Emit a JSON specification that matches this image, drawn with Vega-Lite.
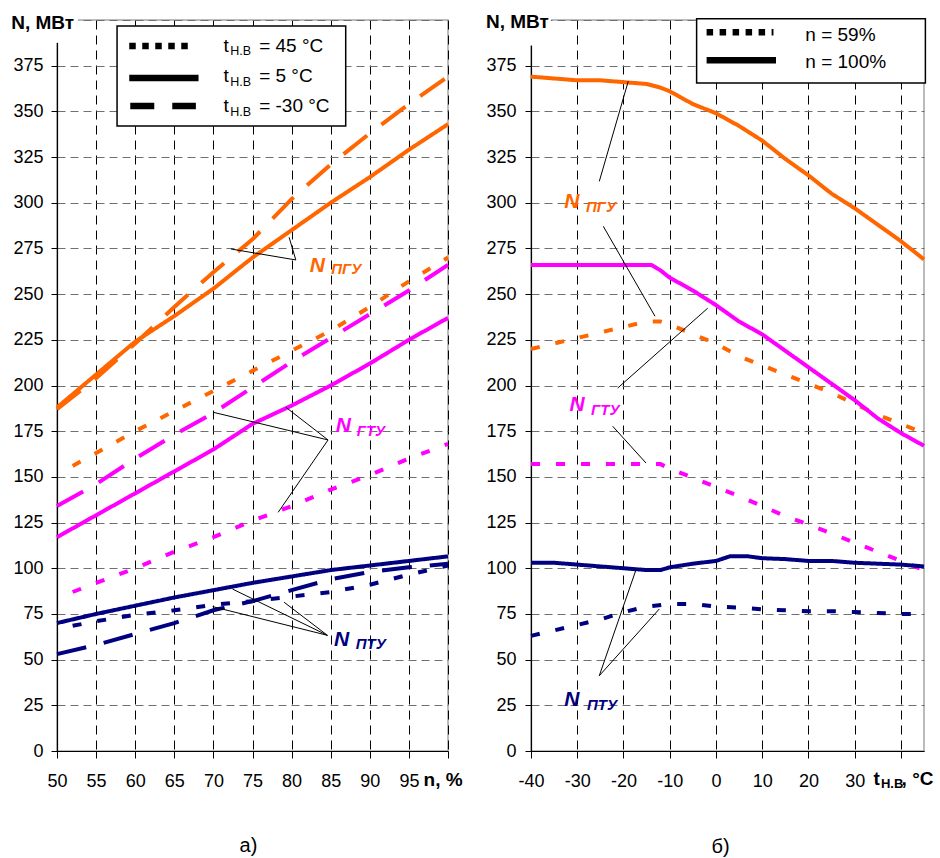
{
"$schema": "https://vega.github.io/schema/vega-lite/v6.json",
"padding": {"left": 10, "top": 10, "right": 2, "bottom": 2},
"spacing": 83,
"bounds": "flush",
"config": {
  "font": "Liberation Sans",
  "view": {"stroke": "#A6A6A6", "strokeWidth": 1.5},
  "axis": {"labelFontSize": 18, "labelColor": "#000", "labelFont": "Liberation Sans", "domainColor": "#000", "domainWidth": 1.2, "tickColor": "#000", "tickWidth": 1, "labelFlush": false, "labelOverlap": false, "grid": true, "gridWidth": 1},
  "axisX": {"gridColor": "#000", "gridDash": [9, 6], "tickSize": 7, "labelPadding": 14},
  "axisY": {"gridColor": "#707070", "gridDash": [8, 5], "tickSize": 6, "labelPadding": 8},
  "title": {"orient": "bottom", "fontSize": 20, "fontWeight": "normal", "font": "Liberation Sans", "color": "#000", "offset": 46, "anchor": "middle"},
  "text": {"font": "Liberation Sans", "color": "#000"}
},
"datasets": {
  "left": [
    {"u":"ПГУ","c":"45 °C","n":52,"N":156},{"u":"ПГУ","c":"45 °C","n":55,"N":163},{"u":"ПГУ","c":"45 °C","n":60,"N":175},{"u":"ПГУ","c":"45 °C","n":65,"N":186},{"u":"ПГУ","c":"45 °C","n":70,"N":197},{"u":"ПГУ","c":"45 °C","n":75,"N":208},{"u":"ПГУ","c":"45 °C","n":80,"N":219},{"u":"ПГУ","c":"45 °C","n":85,"N":230},{"u":"ПГУ","c":"45 °C","n":90,"N":243},{"u":"ПГУ","c":"45 °C","n":95,"N":257},{"u":"ПГУ","c":"45 °C","n":100,"N":270},
    {"u":"ПГУ","c":"5 °C","n":50,"N":188},{"u":"ПГУ","c":"5 °C","n":55,"N":206},{"u":"ПГУ","c":"5 °C","n":60,"N":224},{"u":"ПГУ","c":"5 °C","n":65,"N":238},{"u":"ПГУ","c":"5 °C","n":70,"N":253},{"u":"ПГУ","c":"5 °C","n":75,"N":270},{"u":"ПГУ","c":"5 °C","n":80,"N":285},{"u":"ПГУ","c":"5 °C","n":85,"N":300},{"u":"ПГУ","c":"5 °C","n":90,"N":314},{"u":"ПГУ","c":"5 °C","n":95,"N":329},{"u":"ПГУ","c":"5 °C","n":100,"N":343},
    {"u":"ПГУ","c":"-30 °C","n":50,"N":187},{"u":"ПГУ","c":"-30 °C","n":55,"N":204},{"u":"ПГУ","c":"-30 °C","n":60,"N":223},{"u":"ПГУ","c":"-30 °C","n":65,"N":243},{"u":"ПГУ","c":"-30 °C","n":70,"N":262},{"u":"ПГУ","c":"-30 °C","n":75,"N":280},{"u":"ПГУ","c":"-30 °C","n":80,"N":302},{"u":"ПГУ","c":"-30 °C","n":85,"N":321},{"u":"ПГУ","c":"-30 °C","n":90,"N":338},{"u":"ПГУ","c":"-30 °C","n":95,"N":354},{"u":"ПГУ","c":"-30 °C","n":100,"N":369},
    {"u":"ГТУ","c":"45 °C","n":52,"N":87},{"u":"ГТУ","c":"45 °C","n":55,"N":92},{"u":"ГТУ","c":"45 °C","n":60,"N":100},{"u":"ГТУ","c":"45 °C","n":65,"N":109},{"u":"ГТУ","c":"45 °C","n":70,"N":117},{"u":"ГТУ","c":"45 °C","n":75,"N":126},{"u":"ГТУ","c":"45 °C","n":80,"N":134},{"u":"ГТУ","c":"45 °C","n":85,"N":143},{"u":"ГТУ","c":"45 °C","n":90,"N":151},{"u":"ГТУ","c":"45 °C","n":95,"N":160},{"u":"ГТУ","c":"45 °C","n":100,"N":168},
    {"u":"ГТУ","c":"5 °C","n":50,"N":117},{"u":"ГТУ","c":"5 °C","n":55,"N":129},{"u":"ГТУ","c":"5 °C","n":60,"N":141},{"u":"ГТУ","c":"5 °C","n":65,"N":153},{"u":"ГТУ","c":"5 °C","n":70,"N":165},{"u":"ГТУ","c":"5 °C","n":75,"N":179},{"u":"ГТУ","c":"5 °C","n":80,"N":189},{"u":"ГТУ","c":"5 °C","n":85,"N":200},{"u":"ГТУ","c":"5 °C","n":90,"N":212},{"u":"ГТУ","c":"5 °C","n":95,"N":225},{"u":"ГТУ","c":"5 °C","n":100,"N":237},
    {"u":"ГТУ","c":"-30 °C","n":50,"N":134},{"u":"ГТУ","c":"-30 °C","n":55,"N":146},{"u":"ГТУ","c":"-30 °C","n":60,"N":160},{"u":"ГТУ","c":"-30 °C","n":65,"N":173},{"u":"ГТУ","c":"-30 °C","n":70,"N":185},{"u":"ГТУ","c":"-30 °C","n":75,"N":199},{"u":"ГТУ","c":"-30 °C","n":80,"N":213},{"u":"ГТУ","c":"-30 °C","n":85,"N":226},{"u":"ГТУ","c":"-30 °C","n":90,"N":239},{"u":"ГТУ","c":"-30 °C","n":95,"N":252},{"u":"ГТУ","c":"-30 °C","n":100,"N":266},
    {"u":"ПТУ","c":"45 °C","n":52,"N":68.5},{"u":"ПТУ","c":"45 °C","n":55,"N":71},{"u":"ПТУ","c":"45 °C","n":60,"N":74.5},{"u":"ПТУ","c":"45 °C","n":65,"N":77},{"u":"ПТУ","c":"45 °C","n":70,"N":80},{"u":"ПТУ","c":"45 °C","n":75,"N":82},{"u":"ПТУ","c":"45 °C","n":80,"N":84.5},{"u":"ПТУ","c":"45 °C","n":85,"N":87},{"u":"ПТУ","c":"45 °C","n":90,"N":91},{"u":"ПТУ","c":"45 °C","n":95,"N":96.5},{"u":"ПТУ","c":"45 °C","n":100,"N":101.5},
    {"u":"ПТУ","c":"5 °C","n":50,"N":70},{"u":"ПТУ","c":"5 °C","n":55,"N":75},{"u":"ПТУ","c":"5 °C","n":60,"N":79.5},{"u":"ПТУ","c":"5 °C","n":65,"N":84},{"u":"ПТУ","c":"5 °C","n":70,"N":88},{"u":"ПТУ","c":"5 °C","n":75,"N":92},{"u":"ПТУ","c":"5 °C","n":80,"N":95.5},{"u":"ПТУ","c":"5 °C","n":85,"N":99},{"u":"ПТУ","c":"5 °C","n":90,"N":101.5},{"u":"ПТУ","c":"5 °C","n":95,"N":104},{"u":"ПТУ","c":"5 °C","n":100,"N":106.5},
    {"u":"ПТУ","c":"-30 °C","n":50,"N":53},{"u":"ПТУ","c":"-30 °C","n":55,"N":58},{"u":"ПТУ","c":"-30 °C","n":60,"N":64},{"u":"ПТУ","c":"-30 °C","n":65,"N":70},{"u":"ПТУ","c":"-30 °C","n":70,"N":77},{"u":"ПТУ","c":"-30 °C","n":75,"N":82},{"u":"ПТУ","c":"-30 °C","n":80,"N":88},{"u":"ПТУ","c":"-30 °C","n":85,"N":94},{"u":"ПТУ","c":"-30 °C","n":90,"N":98},{"u":"ПТУ","c":"-30 °C","n":95,"N":100.5},{"u":"ПТУ","c":"-30 °C","n":100,"N":102.5}
  ],
  "right": [
    {"u":"ПГУ","c":"100%","t":-40,"N":369},{"u":"ПГУ","c":"100%","t":-35,"N":368},{"u":"ПГУ","c":"100%","t":-30,"N":367},{"u":"ПГУ","c":"100%","t":-25,"N":367},{"u":"ПГУ","c":"100%","t":-20,"N":366},{"u":"ПГУ","c":"100%","t":-15,"N":365},{"u":"ПГУ","c":"100%","t":-12,"N":363},{"u":"ПГУ","c":"100%","t":-10,"N":361},{"u":"ПГУ","c":"100%","t":-5,"N":354},{"u":"ПГУ","c":"100%","t":0,"N":349},{"u":"ПГУ","c":"100%","t":5,"N":342},{"u":"ПГУ","c":"100%","t":10,"N":334},{"u":"ПГУ","c":"100%","t":15,"N":324},{"u":"ПГУ","c":"100%","t":20,"N":315},{"u":"ПГУ","c":"100%","t":25,"N":305},{"u":"ПГУ","c":"100%","t":30,"N":297},{"u":"ПГУ","c":"100%","t":35,"N":288},{"u":"ПГУ","c":"100%","t":40,"N":279},{"u":"ПГУ","c":"100%","t":45,"N":269},
    {"u":"ПГУ","c":"59%","t":-40,"N":220},{"u":"ПГУ","c":"59%","t":-35,"N":223},{"u":"ПГУ","c":"59%","t":-30,"N":226},{"u":"ПГУ","c":"59%","t":-25,"N":229},{"u":"ПГУ","c":"59%","t":-20,"N":232},{"u":"ПГУ","c":"59%","t":-15,"N":235},{"u":"ПГУ","c":"59%","t":-12,"N":235},{"u":"ПГУ","c":"59%","t":-10,"N":233.5},{"u":"ПГУ","c":"59%","t":-5,"N":228},{"u":"ПГУ","c":"59%","t":0,"N":223},{"u":"ПГУ","c":"59%","t":5,"N":216},{"u":"ПГУ","c":"59%","t":10,"N":211},{"u":"ПГУ","c":"59%","t":15,"N":206},{"u":"ПГУ","c":"59%","t":20,"N":201},{"u":"ПГУ","c":"59%","t":25,"N":196},{"u":"ПГУ","c":"59%","t":30,"N":190},{"u":"ПГУ","c":"59%","t":35,"N":184},{"u":"ПГУ","c":"59%","t":40,"N":179},{"u":"ПГУ","c":"59%","t":45,"N":174},
    {"u":"ГТУ","c":"100%","t":-40,"N":266},{"u":"ГТУ","c":"100%","t":-30,"N":266},{"u":"ГТУ","c":"100%","t":-20,"N":266},{"u":"ГТУ","c":"100%","t":-14,"N":266},{"u":"ГТУ","c":"100%","t":-12,"N":263},{"u":"ГТУ","c":"100%","t":-10,"N":259},{"u":"ГТУ","c":"100%","t":-5,"N":252},{"u":"ГТУ","c":"100%","t":0,"N":244},{"u":"ГТУ","c":"100%","t":5,"N":235},{"u":"ГТУ","c":"100%","t":10,"N":228},{"u":"ГТУ","c":"100%","t":15,"N":219},{"u":"ГТУ","c":"100%","t":20,"N":210},{"u":"ГТУ","c":"100%","t":25,"N":201},{"u":"ГТУ","c":"100%","t":30,"N":192},{"u":"ГТУ","c":"100%","t":35,"N":182},{"u":"ГТУ","c":"100%","t":40,"N":174},{"u":"ГТУ","c":"100%","t":45,"N":167},
    {"u":"ГТУ","c":"59%","t":-40,"N":157},{"u":"ГТУ","c":"59%","t":-30,"N":157},{"u":"ГТУ","c":"59%","t":-20,"N":157},{"u":"ГТУ","c":"59%","t":-12,"N":157},{"u":"ГТУ","c":"59%","t":-10,"N":154.5},{"u":"ГТУ","c":"59%","t":-5,"N":149.5},{"u":"ГТУ","c":"59%","t":0,"N":144.5},{"u":"ГТУ","c":"59%","t":5,"N":139.5},{"u":"ГТУ","c":"59%","t":10,"N":134},{"u":"ГТУ","c":"59%","t":15,"N":128.5},{"u":"ГТУ","c":"59%","t":20,"N":124},{"u":"ГТУ","c":"59%","t":25,"N":119},{"u":"ГТУ","c":"59%","t":30,"N":114},{"u":"ГТУ","c":"59%","t":35,"N":109},{"u":"ГТУ","c":"59%","t":40,"N":104},{"u":"ГТУ","c":"59%","t":45,"N":99},
    {"u":"ПТУ","c":"100%","t":-40,"N":103},{"u":"ПТУ","c":"100%","t":-35,"N":103},{"u":"ПТУ","c":"100%","t":-30,"N":102},{"u":"ПТУ","c":"100%","t":-25,"N":101},{"u":"ПТУ","c":"100%","t":-20,"N":100},{"u":"ПТУ","c":"100%","t":-15,"N":99},{"u":"ПТУ","c":"100%","t":-12,"N":99},{"u":"ПТУ","c":"100%","t":-10,"N":100.5},{"u":"ПТУ","c":"100%","t":-5,"N":102.5},{"u":"ПТУ","c":"100%","t":0,"N":104},{"u":"ПТУ","c":"100%","t":3,"N":106.5},{"u":"ПТУ","c":"100%","t":7,"N":106.5},{"u":"ПТУ","c":"100%","t":10,"N":105.5},{"u":"ПТУ","c":"100%","t":15,"N":105},{"u":"ПТУ","c":"100%","t":20,"N":104},{"u":"ПТУ","c":"100%","t":25,"N":104},{"u":"ПТУ","c":"100%","t":30,"N":103},{"u":"ПТУ","c":"100%","t":35,"N":102.5},{"u":"ПТУ","c":"100%","t":40,"N":102},{"u":"ПТУ","c":"100%","t":45,"N":101},
    {"u":"ПТУ","c":"59%","t":-40,"N":63},{"u":"ПТУ","c":"59%","t":-35,"N":66},{"u":"ПТУ","c":"59%","t":-30,"N":69},{"u":"ПТУ","c":"59%","t":-25,"N":72},{"u":"ПТУ","c":"59%","t":-20,"N":76},{"u":"ПТУ","c":"59%","t":-15,"N":79},{"u":"ПТУ","c":"59%","t":-10,"N":80.5},{"u":"ПТУ","c":"59%","t":-5,"N":80.5},{"u":"ПТУ","c":"59%","t":0,"N":79},{"u":"ПТУ","c":"59%","t":5,"N":78.5},{"u":"ПТУ","c":"59%","t":10,"N":77.5},{"u":"ПТУ","c":"59%","t":15,"N":77},{"u":"ПТУ","c":"59%","t":20,"N":76.5},{"u":"ПТУ","c":"59%","t":25,"N":76.5},{"u":"ПТУ","c":"59%","t":30,"N":76},{"u":"ПТУ","c":"59%","t":35,"N":75.5},{"u":"ПТУ","c":"59%","t":40,"N":75},{"u":"ПТУ","c":"59%","t":45,"N":75}
  ],
  "leftLeaders": [
    {"x1":80.54,"y1":268.7,"x2":72.24,"y2":274.7},{"x1":80.54,"y1":268.7,"x2":79.68,"y2":281.1},
    {"x1":84.66,"y1":170.2,"x2":70.03,"y2":185.3},{"x1":84.66,"y1":170.2,"x2":79.26,"y2":188.1},{"x1":84.66,"y1":170.2,"x2":78.28,"y2":130.6},
    {"x1":84.58,"y1":63.3,"x2":72.45,"y2":88.6},{"x1":84.58,"y1":63.3,"x2":69.9,"y2":79.0},{"x1":84.58,"y1":63.3,"x2":79.04,"y2":81.4}
  ],
  "rightLeaders": [
    {"x1":-25.23,"y1":311.7,"x2":-18.96,"y2":366.5},{"x1":-24.36,"y1":287.1,"x2":-13.18,"y2":237.9},
    {"x1":-21.25,"y1":198.6,"x2":-1.78,"y2":242.3},{"x1":-22.33,"y1":177.7,"x2":-15.13,"y2":157.6},
    {"x1":-25.23,"y1":41.2,"x2":-17.29,"y2":99.2},{"x1":-25.23,"y1":41.2,"x2":-12.25,"y2":77.7}
  ],
  "leftLabels": [
    {"u":"ПГУ","nx":82.32,"ny":262.1,"sx":85.08,"sy":261.0},
    {"u":"ГТУ","nx":85.64,"ny":174.6,"sx":88.33,"sy":172.5},
    {"u":"ПТУ","nx":85.43,"ny":57.6,"sx":88.2,"sy":55.8}
  ],
  "rightLabels": [
    {"u":"ПГУ","nx":-32.8,"ny":297.1,"sx":-28.1,"sy":294.8},
    {"u":"ГТУ","nx":-31.7,"ny":185.9,"sx":-27.0,"sy":184.0},
    {"u":"ПТУ","nx":-32.8,"ny":24.5,"sx":-27.9,"sy":22.6}
  ],
  "leftBox": [{"x1":57.68,"x2":86.92,"y1":396.7,"y2":342}],
  "rightBox": [{"x1":-4.18,"x2":45.3,"y1":400.7,"y2":365.5}],
  "leftKey": [
    {"c":"45 °C","x1":59.24,"x2":67.55,"ys":385.8,"xt":71.29,"xs":72.15,"xr":75.85,"yt":382.3,"ysub":381.0,"rest":"= 45 °C"},
    {"c":"5 °C","x1":59.24,"x2":68.1,"ys":368.3,"xt":71.29,"xs":72.15,"xr":75.85,"yt":365.9,"ysub":364.0,"rest":"= 5 °C"},
    {"c":"-30 °C","x1":59.37,"x2":67.76,"ys":353.0,"xt":71.29,"xs":72.15,"xr":75.85,"yt":349.5,"ysub":347.6,"rest":"= -30 °C"}
  ],
  "rightKey": [
    {"c":"59%","x1":-2.02,"x2":12.44,"ys":393.3,"xt":19.33,"yt":388.3,"label":"n = 59%"},
    {"c":"100%","x1":-2.02,"x2":12.99,"ys":378.0,"xt":19.33,"yt":373.7,"label":"n = 100%"}
  ],
  "leftMask": [{"x1":49,"x2":52.7,"y1":387.5,"y2":402}],
  "rightMask": [{"x1":-41.5,"x2":-35.7,"y1":386,"y2":402}],
  "leftTitles": [
    {"x":44.14,"y":395.1,"label":"N, МВт"},
    {"x":96.88,"y":-19.15,"label":"n, %"}
  ],
  "rightTitles": [
    {"x":-49.73,"y":395.6,"label":"N, МВт"},
    {"x":34.07,"y":-18.6,"label":"t"},
    {"x":40.15,"y":-18.6,"label":", °C"}
  ],
  "rightTitleSub": [
    {"x":35.69,"y":-20.2,"label":"Н.В"}
  ]
},
"hconcat": [
  {
    "width": 391, "height": 731,
    "title": {"text": "а)", "dx": -4},
    "resolve": {"scale": {"strokeDash": "independent"}},
    "layer": [
      {"data": {"name": "left"},
       "mark": {"type": "line", "strokeWidth": 4},
       "encoding": {
         "x": {"field": "n", "type": "quantitative", "scale": {"domain": [50, 100], "nice": false, "zero": false},
               "axis": {"values": [50,55,60,65,70,75,80,85,90,95,100], "labelExpr": "datum.value == 100 ? '' : toString(datum.value)", "title": null}},
         "y": {"field": "N", "type": "quantitative", "scale": {"domain": [0, 400], "nice": false},
               "axis": {"values": [0,25,50,75,100,125,150,175,200,225,250,275,300,325,350,375,400], "labelExpr": "datum.value == 400 ? '' : toString(datum.value)", "title": null}},
         "color": {"field": "u", "type": "nominal", "scale": {"domain": ["ПГУ","ГТУ","ПТУ"], "range": ["#FF6600","#FF00FF","#000080"]}, "legend": null},
         "strokeDash": {"field": "c", "type": "nominal", "scale": {"domain": ["45 °C","5 °C","-30 °C"], "range": [[9,16],[1,0],[30,18]]}, "legend": null}
       }},
      {"data": {"name": "leftLeaders"},
       "mark": {"type": "rule", "color": "#000", "strokeWidth": 1},
       "encoding": {
         "x": {"field": "x1", "type": "quantitative", "scale": {"domain": [50, 100], "nice": false, "zero": false}, "axis": {"values": [50,55,60,65,70,75,80,85,90,95,100], "labelExpr": "datum.value == 100 ? '' : toString(datum.value)", "title": null}},
         "y": {"field": "y1", "type": "quantitative", "scale": {"domain": [0, 400], "nice": false}, "axis": {"values": [0,25,50,75,100,125,150,175,200,225,250,275,300,325,350,375,400], "labelExpr": "datum.value == 400 ? '' : toString(datum.value)", "title": null}},
         "x2": {"field": "x2"}, "y2": {"field": "y2"}
       }},
      {"data": {"name": "leftBox"},
       "mark": {"type": "rect", "fill": "#FFFFFF", "stroke": "#000", "strokeWidth": 1.5},
       "encoding": {
         "x": {"field": "x1", "type": "quantitative", "scale": {"domain": [50, 100], "nice": false, "zero": false}, "axis": {"values": [50,55,60,65,70,75,80,85,90,95,100], "labelExpr": "datum.value == 100 ? '' : toString(datum.value)", "title": null}},
         "y": {"field": "y1", "type": "quantitative", "scale": {"domain": [0, 400], "nice": false}, "axis": {"values": [0,25,50,75,100,125,150,175,200,225,250,275,300,325,350,375,400], "labelExpr": "datum.value == 400 ? '' : toString(datum.value)", "title": null}},
         "x2": {"field": "x2"}, "y2": {"field": "y2"}
       }},
      {"data": {"name": "leftKey"},
       "mark": {"type": "rule", "color": "#000", "strokeWidth": 6.5},
       "encoding": {
         "x": {"field": "x1", "type": "quantitative", "scale": {"domain": [50, 100], "nice": false, "zero": false}, "axis": {"values": [50,55,60,65,70,75,80,85,90,95,100], "labelExpr": "datum.value == 100 ? '' : toString(datum.value)", "title": null}},
         "y": {"field": "ys", "type": "quantitative", "scale": {"domain": [0, 400], "nice": false}, "axis": {"values": [0,25,50,75,100,125,150,175,200,225,250,275,300,325,350,375,400], "labelExpr": "datum.value == 400 ? '' : toString(datum.value)", "title": null}},
         "x2": {"field": "x2"},
         "strokeDash": {"field": "c", "type": "nominal", "scale": {"domain": ["45 °C","5 °C","-30 °C"], "range": [[6.5,6.5],[1,0],[24,18]]}, "legend": null}
       }},
      {"data": {"name": "leftKey"},
       "mark": {"type": "text", "fontSize": 19, "align": "left", "baseline": "alphabetic"},
       "encoding": {
         "x": {"field": "xt", "type": "quantitative", "scale": {"domain": [50, 100], "nice": false, "zero": false}, "axis": {"values": [50,55,60,65,70,75,80,85,90,95,100], "labelExpr": "datum.value == 100 ? '' : toString(datum.value)", "title": null}},
         "y": {"field": "yt", "type": "quantitative", "scale": {"domain": [0, 400], "nice": false}, "axis": {"values": [0,25,50,75,100,125,150,175,200,225,250,275,300,325,350,375,400], "labelExpr": "datum.value == 400 ? '' : toString(datum.value)", "title": null}},
         "text": {"value": "t"}
       }},
      {"data": {"name": "leftKey"},
       "mark": {"type": "text", "fontSize": 12.5, "align": "left", "baseline": "alphabetic"},
       "encoding": {
         "x": {"field": "xs", "type": "quantitative", "scale": {"domain": [50, 100], "nice": false, "zero": false}, "axis": {"values": [50,55,60,65,70,75,80,85,90,95,100], "labelExpr": "datum.value == 100 ? '' : toString(datum.value)", "title": null}},
         "y": {"field": "ysub", "type": "quantitative", "scale": {"domain": [0, 400], "nice": false}, "axis": {"values": [0,25,50,75,100,125,150,175,200,225,250,275,300,325,350,375,400], "labelExpr": "datum.value == 400 ? '' : toString(datum.value)", "title": null}},
         "text": {"value": "Н.В"}
       }},
      {"data": {"name": "leftKey"},
       "mark": {"type": "text", "fontSize": 19, "align": "left", "baseline": "alphabetic"},
       "encoding": {
         "x": {"field": "xr", "type": "quantitative", "scale": {"domain": [50, 100], "nice": false, "zero": false}, "axis": {"values": [50,55,60,65,70,75,80,85,90,95,100], "labelExpr": "datum.value == 100 ? '' : toString(datum.value)", "title": null}},
         "y": {"field": "yt", "type": "quantitative", "scale": {"domain": [0, 400], "nice": false}, "axis": {"values": [0,25,50,75,100,125,150,175,200,225,250,275,300,325,350,375,400], "labelExpr": "datum.value == 400 ? '' : toString(datum.value)", "title": null}},
         "text": {"field": "rest"}
       }},
      {"data": {"name": "leftMask"},
       "mark": {"type": "rect", "fill": "#FFFFFF"},
       "encoding": {
         "x": {"field": "x1", "type": "quantitative", "scale": {"domain": [50, 100], "nice": false, "zero": false}, "axis": {"values": [50,55,60,65,70,75,80,85,90,95,100], "labelExpr": "datum.value == 100 ? '' : toString(datum.value)", "title": null}},
         "y": {"field": "y1", "type": "quantitative", "scale": {"domain": [0, 400], "nice": false}, "axis": {"values": [0,25,50,75,100,125,150,175,200,225,250,275,300,325,350,375,400], "labelExpr": "datum.value == 400 ? '' : toString(datum.value)", "title": null}},
         "x2": {"field": "x2"}, "y2": {"field": "y2"}
       }},
      {"data": {"name": "leftTitles"},
       "mark": {"type": "text", "fontSize": 19, "fontWeight": "bold", "align": "left", "baseline": "alphabetic"},
       "encoding": {
         "x": {"field": "x", "type": "quantitative", "scale": {"domain": [50, 100], "nice": false, "zero": false}, "axis": {"values": [50,55,60,65,70,75,80,85,90,95,100], "labelExpr": "datum.value == 100 ? '' : toString(datum.value)", "title": null}},
         "y": {"field": "y", "type": "quantitative", "scale": {"domain": [0, 400], "nice": false}, "axis": {"values": [0,25,50,75,100,125,150,175,200,225,250,275,300,325,350,375,400], "labelExpr": "datum.value == 400 ? '' : toString(datum.value)", "title": null}},
         "text": {"field": "label"}
       }},
      {"data": {"name": "leftLabels"},
       "mark": {"type": "text", "fontSize": 21, "fontWeight": "bold", "fontStyle": "italic", "align": "left", "baseline": "alphabetic"},
       "encoding": {
         "x": {"field": "nx", "type": "quantitative", "scale": {"domain": [50, 100], "nice": false, "zero": false}, "axis": {"values": [50,55,60,65,70,75,80,85,90,95,100], "labelExpr": "datum.value == 100 ? '' : toString(datum.value)", "title": null}},
         "y": {"field": "ny", "type": "quantitative", "scale": {"domain": [0, 400], "nice": false}, "axis": {"values": [0,25,50,75,100,125,150,175,200,225,250,275,300,325,350,375,400], "labelExpr": "datum.value == 400 ? '' : toString(datum.value)", "title": null}},
         "text": {"value": "N"},
         "color": {"field": "u", "type": "nominal", "scale": {"domain": ["ПГУ","ГТУ","ПТУ"], "range": ["#FF6600","#FF00FF","#000080"]}, "legend": null}
       }},
      {"data": {"name": "leftLabels"},
       "mark": {"type": "text", "fontSize": 15, "fontWeight": "bold", "fontStyle": "italic", "align": "left", "baseline": "alphabetic"},
       "encoding": {
         "x": {"field": "sx", "type": "quantitative", "scale": {"domain": [50, 100], "nice": false, "zero": false}, "axis": {"values": [50,55,60,65,70,75,80,85,90,95,100], "labelExpr": "datum.value == 100 ? '' : toString(datum.value)", "title": null}},
         "y": {"field": "sy", "type": "quantitative", "scale": {"domain": [0, 400], "nice": false}, "axis": {"values": [0,25,50,75,100,125,150,175,200,225,250,275,300,325,350,375,400], "labelExpr": "datum.value == 400 ? '' : toString(datum.value)", "title": null}},
         "text": {"field": "u"},
         "color": {"field": "u", "type": "nominal", "scale": {"domain": ["ПГУ","ГТУ","ПТУ"], "range": ["#FF6600","#FF00FF","#000080"]}, "legend": null}
       }}
    ]
  },
  {
    "width": 393, "height": 731,
    "title": {"text": "б)", "dx": -7},
    "resolve": {"scale": {"strokeDash": "independent"}},
    "layer": [
      {"data": {"name": "right"},
       "mark": {"type": "line", "strokeWidth": 4},
       "encoding": {
         "x": {"field": "t", "type": "quantitative", "scale": {"domain": [-40, 45], "nice": false, "zero": false},
               "axis": {"values": [-40,-30,-20,-10,0,10,20,30,40], "labelExpr": "datum.value == 40 ? '' : toString(datum.value)", "title": null}},
         "y": {"field": "N", "type": "quantitative", "scale": {"domain": [0, 400], "nice": false},
               "axis": {"values": [0,25,50,75,100,125,150,175,200,225,250,275,300,325,350,375,400], "labelExpr": "datum.value == 400 ? '' : toString(datum.value)", "title": null, "labelPadding": 9}},
         "color": {"field": "u", "type": "nominal", "scale": {"domain": ["ПГУ","ГТУ","ПТУ"], "range": ["#FF6600","#FF00FF","#000080"]}, "legend": null},
         "strokeDash": {"field": "c", "type": "nominal", "scale": {"domain": ["59%","100%"], "range": [[9,16],[1,0]]}, "legend": null}
       }},
      {"data": {"name": "rightLeaders"},
       "mark": {"type": "rule", "color": "#000", "strokeWidth": 1},
       "encoding": {
         "x": {"field": "x1", "type": "quantitative", "scale": {"domain": [-40, 45], "nice": false, "zero": false}, "axis": {"values": [-40,-30,-20,-10,0,10,20,30,40], "labelExpr": "datum.value == 40 ? '' : toString(datum.value)", "title": null}},
         "y": {"field": "y1", "type": "quantitative", "scale": {"domain": [0, 400], "nice": false}, "axis": {"values": [0,25,50,75,100,125,150,175,200,225,250,275,300,325,350,375,400], "labelExpr": "datum.value == 400 ? '' : toString(datum.value)", "title": null, "labelPadding": 9}},
         "x2": {"field": "x2"}, "y2": {"field": "y2"}
       }},
      {"data": {"name": "rightBox"},
       "mark": {"type": "rect", "fill": "#FFFFFF", "stroke": "#000", "strokeWidth": 1.5},
       "encoding": {
         "x": {"field": "x1", "type": "quantitative", "scale": {"domain": [-40, 45], "nice": false, "zero": false}, "axis": {"values": [-40,-30,-20,-10,0,10,20,30,40], "labelExpr": "datum.value == 40 ? '' : toString(datum.value)", "title": null}},
         "y": {"field": "y1", "type": "quantitative", "scale": {"domain": [0, 400], "nice": false}, "axis": {"values": [0,25,50,75,100,125,150,175,200,225,250,275,300,325,350,375,400], "labelExpr": "datum.value == 400 ? '' : toString(datum.value)", "title": null, "labelPadding": 9}},
         "x2": {"field": "x2"}, "y2": {"field": "y2"}
       }},
      {"data": {"name": "rightKey"},
       "mark": {"type": "rule", "color": "#000", "strokeWidth": 6.5},
       "encoding": {
         "x": {"field": "x1", "type": "quantitative", "scale": {"domain": [-40, 45], "nice": false, "zero": false}, "axis": {"values": [-40,-30,-20,-10,0,10,20,30,40], "labelExpr": "datum.value == 40 ? '' : toString(datum.value)", "title": null}},
         "y": {"field": "ys", "type": "quantitative", "scale": {"domain": [0, 400], "nice": false}, "axis": {"values": [0,25,50,75,100,125,150,175,200,225,250,275,300,325,350,375,400], "labelExpr": "datum.value == 400 ? '' : toString(datum.value)", "title": null, "labelPadding": 9}},
         "x2": {"field": "x2"},
         "strokeDash": {"field": "c", "type": "nominal", "scale": {"domain": ["59%","100%"], "range": [[6.5,6.5],[1,0]]}, "legend": null}
       }},
      {"data": {"name": "rightKey"},
       "mark": {"type": "text", "fontSize": 19, "align": "left", "baseline": "alphabetic"},
       "encoding": {
         "x": {"field": "xt", "type": "quantitative", "scale": {"domain": [-40, 45], "nice": false, "zero": false}, "axis": {"values": [-40,-30,-20,-10,0,10,20,30,40], "labelExpr": "datum.value == 40 ? '' : toString(datum.value)", "title": null}},
         "y": {"field": "yt", "type": "quantitative", "scale": {"domain": [0, 400], "nice": false}, "axis": {"values": [0,25,50,75,100,125,150,175,200,225,250,275,300,325,350,375,400], "labelExpr": "datum.value == 400 ? '' : toString(datum.value)", "title": null, "labelPadding": 9}},
         "text": {"field": "label"}
       }},
      {"data": {"name": "rightMask"},
       "mark": {"type": "rect", "fill": "#FFFFFF"},
       "encoding": {
         "x": {"field": "x1", "type": "quantitative", "scale": {"domain": [-40, 45], "nice": false, "zero": false}, "axis": {"values": [-40,-30,-20,-10,0,10,20,30,40], "labelExpr": "datum.value == 40 ? '' : toString(datum.value)", "title": null}},
         "y": {"field": "y1", "type": "quantitative", "scale": {"domain": [0, 400], "nice": false}, "axis": {"values": [0,25,50,75,100,125,150,175,200,225,250,275,300,325,350,375,400], "labelExpr": "datum.value == 400 ? '' : toString(datum.value)", "title": null, "labelPadding": 9}},
         "x2": {"field": "x2"}, "y2": {"field": "y2"}
       }},
      {"data": {"name": "rightTitles"},
       "mark": {"type": "text", "fontSize": 19, "fontWeight": "bold", "align": "left", "baseline": "alphabetic"},
       "encoding": {
         "x": {"field": "x", "type": "quantitative", "scale": {"domain": [-40, 45], "nice": false, "zero": false}, "axis": {"values": [-40,-30,-20,-10,0,10,20,30,40], "labelExpr": "datum.value == 40 ? '' : toString(datum.value)", "title": null}},
         "y": {"field": "y", "type": "quantitative", "scale": {"domain": [0, 400], "nice": false}, "axis": {"values": [0,25,50,75,100,125,150,175,200,225,250,275,300,325,350,375,400], "labelExpr": "datum.value == 400 ? '' : toString(datum.value)", "title": null, "labelPadding": 9}},
         "text": {"field": "label"}
       }},
      {"data": {"name": "rightTitleSub"},
       "mark": {"type": "text", "fontSize": 13, "fontWeight": "bold", "align": "left", "baseline": "alphabetic"},
       "encoding": {
         "x": {"field": "x", "type": "quantitative", "scale": {"domain": [-40, 45], "nice": false, "zero": false}, "axis": {"values": [-40,-30,-20,-10,0,10,20,30,40], "labelExpr": "datum.value == 40 ? '' : toString(datum.value)", "title": null}},
         "y": {"field": "y", "type": "quantitative", "scale": {"domain": [0, 400], "nice": false}, "axis": {"values": [0,25,50,75,100,125,150,175,200,225,250,275,300,325,350,375,400], "labelExpr": "datum.value == 400 ? '' : toString(datum.value)", "title": null, "labelPadding": 9}},
         "text": {"field": "label"}
       }},
      {"data": {"name": "rightLabels"},
       "mark": {"type": "text", "fontSize": 21, "fontWeight": "bold", "fontStyle": "italic", "align": "left", "baseline": "alphabetic"},
       "encoding": {
         "x": {"field": "nx", "type": "quantitative", "scale": {"domain": [-40, 45], "nice": false, "zero": false}, "axis": {"values": [-40,-30,-20,-10,0,10,20,30,40], "labelExpr": "datum.value == 40 ? '' : toString(datum.value)", "title": null}},
         "y": {"field": "ny", "type": "quantitative", "scale": {"domain": [0, 400], "nice": false}, "axis": {"values": [0,25,50,75,100,125,150,175,200,225,250,275,300,325,350,375,400], "labelExpr": "datum.value == 400 ? '' : toString(datum.value)", "title": null, "labelPadding": 9}},
         "text": {"value": "N"},
         "color": {"field": "u", "type": "nominal", "scale": {"domain": ["ПГУ","ГТУ","ПТУ"], "range": ["#FF6600","#FF00FF","#000080"]}, "legend": null}
       }},
      {"data": {"name": "rightLabels"},
       "mark": {"type": "text", "fontSize": 15, "fontWeight": "bold", "fontStyle": "italic", "align": "left", "baseline": "alphabetic"},
       "encoding": {
         "x": {"field": "sx", "type": "quantitative", "scale": {"domain": [-40, 45], "nice": false, "zero": false}, "axis": {"values": [-40,-30,-20,-10,0,10,20,30,40], "labelExpr": "datum.value == 40 ? '' : toString(datum.value)", "title": null}},
         "y": {"field": "sy", "type": "quantitative", "scale": {"domain": [0, 400], "nice": false}, "axis": {"values": [0,25,50,75,100,125,150,175,200,225,250,275,300,325,350,375,400], "labelExpr": "datum.value == 400 ? '' : toString(datum.value)", "title": null, "labelPadding": 9}},
         "text": {"field": "u"},
         "color": {"field": "u", "type": "nominal", "scale": {"domain": ["ПГУ","ГТУ","ПТУ"], "range": ["#FF6600","#FF00FF","#000080"]}, "legend": null}
       }}
    ]
  }
]
}
